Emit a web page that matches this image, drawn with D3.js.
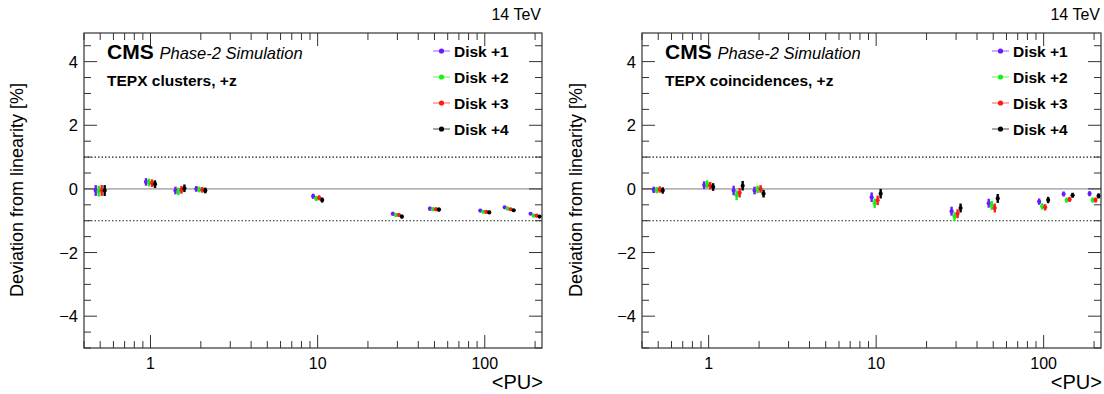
<!DOCTYPE html>
<html>
<head>
<meta charset="utf-8">
<title>TEPX linearity</title>
<script src="https://cdn.jsdelivr.net/npm/d3@7"></script>
<style>
body{margin:0;background:#fff;}
text{font-family:"Liberation Sans",Arial,sans-serif;fill:#000;}
</style>
</head>
<body>
<script>
// pile-up points
var pu = [0.5, 1, 1.5, 2, 10, 30, 50, 100, 140, 200];
var disks = ["Disk +1", "Disk +2", "Disk +3", "Disk +4"];
var colors = ["#6b1aff", "#19f019", "#ff1a1a", "#000000"];

// clusters, +z
var clu1 = [-0.05, 0.22, -0.05, 0.00, -0.23, -0.78, -0.62, -0.68, -0.58, -0.78];
var clu2 = [-0.07, 0.20, -0.08, -0.02, -0.30, -0.82, -0.64, -0.72, -0.62, -0.84];
var clu3 = [-0.05, 0.18, -0.03, -0.03, -0.28, -0.82, -0.64, -0.72, -0.64, -0.84];
var clu4 = [-0.05, 0.15, 0.02, -0.05, -0.35, -0.87, -0.65, -0.74, -0.67, -0.87];
var cluErr = [0.17, 0.12, 0.12, 0.09, 0.08, 0.06, 0.06, 0.05, 0.03, 0.03];

// coincidences, +z
var coi1 = [-0.03, 0.12, -0.05, -0.05, -0.26, -0.70, -0.45, -0.40, -0.16, -0.15];
var coi2 = [-0.04, 0.15, -0.20, -0.02, -0.45, -0.87, -0.52, -0.55, -0.35, -0.35];
var coi3 = [-0.02, 0.10, -0.12, 0.00, -0.36, -0.78, -0.60, -0.58, -0.33, -0.35];
var coi4 = [-0.05, 0.06, 0.10, -0.15, -0.15, -0.60, -0.30, -0.35, -0.20, -0.22];
var coiErr = [0.10, 0.12, 0.15, 0.12, 0.15, 0.14, 0.14, 0.10, 0.08, 0.08];

var xTickLabels = [1, 10, 100];
var yTickLabels = [-4, -2, 0, 2, 4];

var W = 1104, H = 394;
var svg = d3.select("body").append("svg").attr("width", W).attr("height", H);

function panel(x0, x1, label, series, err, ylabX){
	var top = 33, bottom = 348;
	var x = d3.scaleLog().domain([0.4, 220]).range([x0, x1]);
	var y = d3.scaleLinear().domain([-5, 4.9]).range([bottom, top]);
	var g = svg.append("g");

	// reference lines
	g.append("line").attr("x1", x0).attr("x2", x1).attr("y1", y(0)).attr("y2", y(0))
		.attr("stroke", "#b4b4b4").attr("stroke-width", 1.6);
	[1, -1].forEach(function(v){
		g.append("line").attr("x1", x0).attr("x2", x1).attr("y1", y(v)).attr("y2", y(v))
			.attr("stroke", "#222").attr("stroke-width", 1.2).attr("stroke-dasharray", "1.5,2");
	});

	// ticks on all four sides
	var minorX = [];
	[0.1, 1, 10, 100].forEach(function(d){
		for(var k = 1; k < 10; k++){ var v = d*k; if(v >= 0.4 && v <= 220) minorX.push(v); }
	});
	minorX.forEach(function(v){
		var major = xTickLabels.indexOf(v) >= 0;
		var len = major ? 13 : 7;
		g.append("line").attr("x1", x(v)).attr("x2", x(v)).attr("y1", bottom).attr("y2", bottom - len)
			.attr("stroke", "#333").attr("stroke-width", 1);
		g.append("line").attr("x1", x(v)).attr("x2", x(v)).attr("y1", top).attr("y2", top + len)
			.attr("stroke", "#333").attr("stroke-width", 1);
	});
	d3.range(-5, 5, 0.5).forEach(function(v){
		var major = yTickLabels.indexOf(v) >= 0;
		var len = major ? 13 : 7;
		g.append("line").attr("x1", x0).attr("x2", x0 + len).attr("y1", y(v)).attr("y2", y(v))
			.attr("stroke", "#333").attr("stroke-width", 1);
		g.append("line").attr("x1", x1).attr("x2", x1 - len).attr("y1", y(v)).attr("y2", y(v))
			.attr("stroke", "#333").attr("stroke-width", 1);
	});

	g.append("rect").attr("x", x0).attr("y", top).attr("width", x1 - x0).attr("height", bottom - top)
		.attr("fill", "none").attr("stroke", "#333").attr("stroke-width", 1.2);

	g.selectAll("text.xt").data(xTickLabels).enter().append("text")
		.attr("x", function(d){ return x(d); }).attr("y", 369)
		.attr("text-anchor", "middle").attr("font-size", 16).text(function(d){ return d; });
	g.selectAll("text.yt").data(yTickLabels).enter().append("text")
		.attr("x", x0 - 6).attr("y", function(d){ return y(d) + 6; })
		.attr("text-anchor", "end").attr("font-size", 16.5)
		.text(function(d){ return d < 0 ? "\u2212" + (-d) : d; });

	g.append("text").attr("x", x1 + 1).attr("y", 389).attr("text-anchor", "end")
		.attr("font-size", 20).text("<PU>");
	g.append("text").attr("transform", "translate(" + ylabX + "," + 190 + ") rotate(-90)")
		.attr("text-anchor", "middle").attr("font-size", 18).text("Deviation from linearity [%]");
	g.append("text").attr("x", x1 - 1).attr("y", 20).attr("text-anchor", "end")
		.attr("font-size", 16).text("14 TeV");

	var cms = g.append("text").attr("x", x0 + 23).attr("y", 59);
	cms.append("tspan").attr("font-size", 21).attr("font-weight", "bold").text("CMS ");
	cms.append("tspan").attr("font-size", 16.5).attr("font-style", "italic").text("Phase-2 Simulation");
	g.append("text").attr("x", x0 + 23).attr("y", 86).attr("font-size", 15.5)
		.attr("font-weight", "bold").text(label);

	// legend
	disks.forEach(function(name, i){
		var ly = 51 + i * 26, lx = x1 - 109;
		g.append("line").attr("x1", lx).attr("x2", lx + 17).attr("y1", ly).attr("y2", ly)
			.attr("stroke", colors[i]).attr("stroke-width", 1).attr("opacity", 0.7);
		g.append("circle").attr("cx", lx + 8.5).attr("cy", ly).attr("r", 2.6).attr("fill", colors[i]);
		g.append("text").attr("x", lx + 21).attr("y", ly + 5.5).attr("font-size", 15.5)
			.attr("font-weight", "bold").text(name);
	});

	// data points with error bars
	var offs = [-4.5, -1.5, 1.5, 4.5];
	series.forEach(function(vals, s){
		var pts = g.append("g");
		vals.forEach(function(v, i){
			var cx = x(pu[i]) + offs[s];
			pts.append("line").attr("x1", cx).attr("x2", cx)
				.attr("y1", y(v - err[i])).attr("y2", y(v + err[i]))
				.attr("stroke", colors[s]).attr("stroke-width", 2.4);
			pts.append("circle").attr("cx", cx).attr("cy", y(v)).attr("r", 2.1).attr("fill", colors[s]);
		});
	});
}

panel(84, 542, "TEPX clusters, +z", [clu1, clu2, clu3, clu4], cluErr, 23);
panel(642, 1101, "TEPX coincidences, +z", [coi1, coi2, coi3, coi4], coiErr, 582);
</script>
</body>
</html>
